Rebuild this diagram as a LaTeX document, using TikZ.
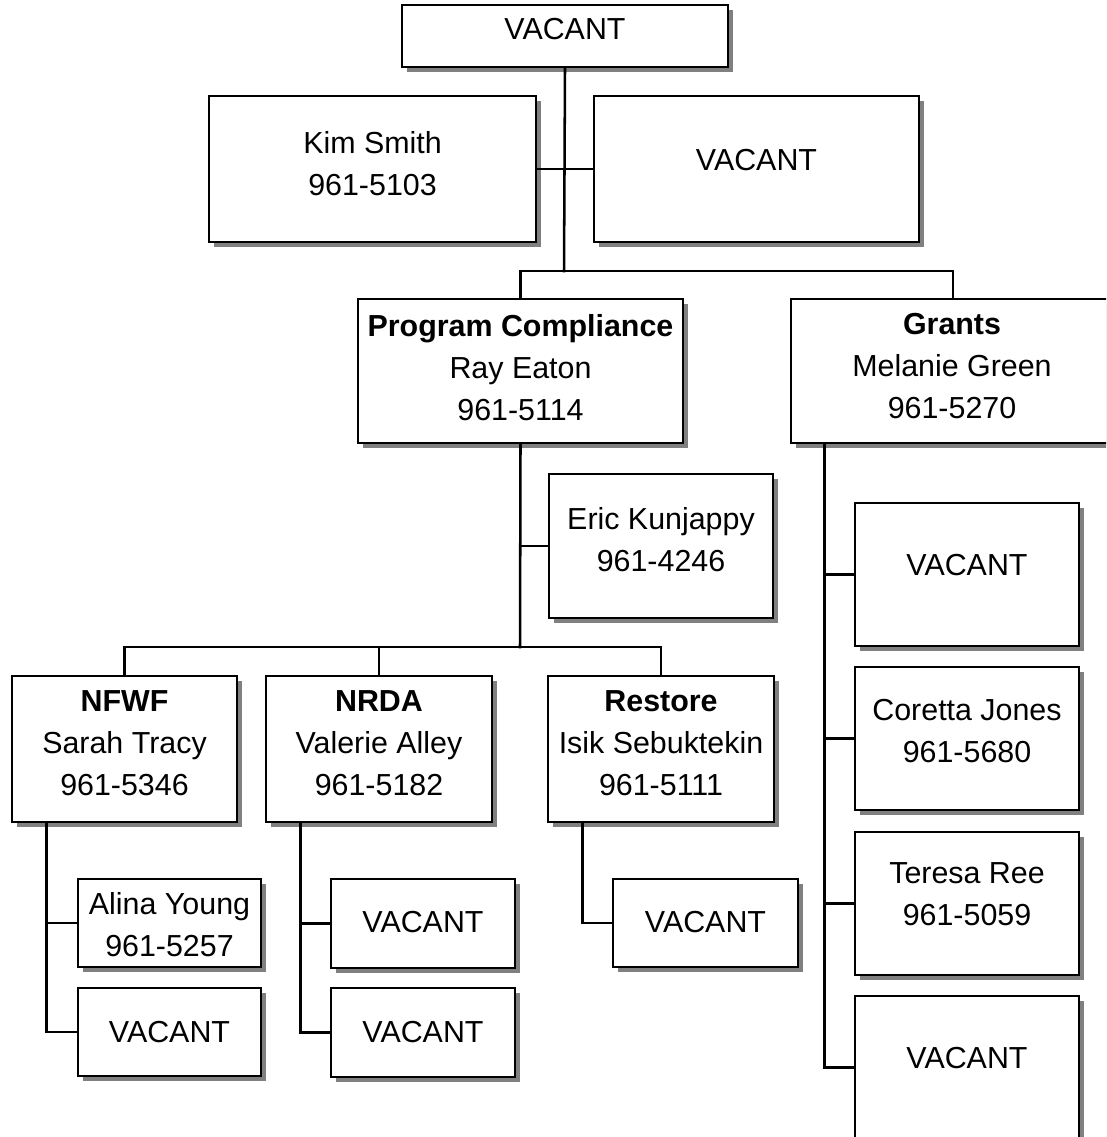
\documentclass[tikz,border=0pt]{standalone}
\usepackage{fontspec}
\setmainfont{Liberation Sans}
\usetikzlibrary{shadows,calc}
\begin{document}
\begin{tikzpicture}[x=0.75pt,y=-0.75pt,
  box/.style 2 args={draw=black, line width=1.9pt, fill=white, inner sep=0pt,
    minimum width=#1*0.75pt, minimum height=#2*0.75pt,
    drop shadow={shadow xshift=3.75pt, shadow yshift=-3.75pt, fill=black!50, opacity=1}},
  txt/.style={anchor=north, inner sep=0pt, align=center,
    font=\fontsize{22.8pt}{31.5pt}\selectfont},
  conn/.style={line width=1.9pt, line cap=rect}]
\useasboundingbox (0,0) rectangle (1106,1137);
\clip (0,0) rectangle (1106,1137);

% boxes
\node[box={326}{62}]  (top)   at (565,36) {};
\node[box={327}{146}] (kim)   at (372.5,169) {};
\node[box={325}{146}] (vac1)  at (756.5,169) {};
\node[box={325}{144}] (pc)    at (520.5,371) {};
\node[box={324}{144}] (gr)    at (953,371) {};
\node[box={224}{144}] (eric)  at (661,546) {};
\node[box={225}{146}] (nfwf)  at (124.5,749) {};
\node[box={226}{146}] (nrda)  at (379,749) {};
\node[box={226}{146}] (rest)  at (661,749) {};
\node[box={183}{88}]  (alina) at (169.5,923) {};
\node[box={183}{88}]  (nfv)   at (169.5,1032) {};
\node[box={184}{89}]  (nrv1)  at (423,923.5) {};
\node[box={184}{89}]  (nrv2)  at (423,1032.5) {};
\node[box={185}{88}]  (rsv)   at (705.5,923) {};
\node[box={224}{143}] (g1)    at (967,574.5) {};
\node[box={224}{143}] (g2)    at (967,738.5) {};
\node[box={224}{143}] (g3)    at (967,903.5) {};
\node[box={224}{143}] (g4)    at (967,1067.5) {};

% texts
\node[txt] (ttop)   at (565,18.2) {VACANT};
\node[txt] (tkim)   at (372.5,131.2) {Kim Smith\\961-5103};
\node[txt] (tvac1)  at (756.5,149.2) {VACANT};
\node[txt] (tpc)    at (520.5,314.2) {\textbf{Program Compliance}\\Ray Eaton\\961-5114};
\node[txt] (tgr)    at (952,313.2) {\textbf{Grants}\\Melanie Green\\961-5270};
\node[txt] (teric)  at (661,507.2) {Eric Kunjappy\\961-4246};
\node[txt] (tnfwf)  at (124.5,690.2) {\textbf{NFWF}\\Sarah Tracy\\961-5346};
\node[txt] (tnrda)  at (379,690.2) {\textbf{NRDA}\\Valerie Alley\\961-5182};
\node[txt] (trest)  at (661,690.2) {\textbf{Restore}\\Isik Sebuktekin\\961-5111};
\node[txt] (talina) at (169.5,892.2) {Alina Young\\961-5257};
\node[txt] (tnfv)   at (169.5,1021.2) {VACANT};
\node[txt] (tnrv1)  at (423,911.2) {VACANT};
\node[txt] (tnrv2)  at (423,1021.2) {VACANT};
\node[txt] (trsv)   at (705.5,911.2) {VACANT};
\node[txt] (tg1)    at (967,554.2) {VACANT};
\node[txt] (tg2)    at (967,699.2) {Coretta Jones\\961-5680};
\node[txt] (tg3)    at (967,862.2) {Teresa Ree\\961-5059};
\node[txt] (tg4)    at (967,1047.2) {VACANT};

% junctions
\coordinate (j1) at (564,271);
\coordinate (j2) at (520,647);
\coordinate (sA) at ($(nfwf.south west)+(36,0)$);
\coordinate (sB) at ($(nrda.south west)+(36,0)$);
\coordinate (sC) at ($(rest.south west)+(36,0)$);
\coordinate (sG) at ($(gr.south west)+(35,0)$);

% connectors
\draw[conn] (top.south) -- (j1);
\draw[conn] (kim.east) -- (vac1.west);
\draw[conn] (pc.north) |- (j1) -| (gr.north);
\draw[conn] (pc.south) -- (j2);
\draw[conn] (eric.west) -- (eric.west -| pc.south);
\draw[conn] (nfwf.north) |- (j2) -| (rest.north);
\draw[conn] (nrda.north) -- (nrda.north |- j2);
\draw[conn] (sA) |- (nfv.west);
\draw[conn] (alina.west) -- (alina.west -| sA);
\draw[conn] (sB) |- (nrv2.west);
\draw[conn] (nrv1.west) -- (nrv1.west -| sB);
\draw[conn] (sC) |- (rsv.west);
\draw[conn] (sG) |- (g4.west);
\draw[conn] (g1.west) -- (g1.west -| sG);
\draw[conn] (g2.west) -- (g2.west -| sG);
\draw[conn] (g3.west) -- (g3.west -| sG);
\end{tikzpicture}
\end{document}
